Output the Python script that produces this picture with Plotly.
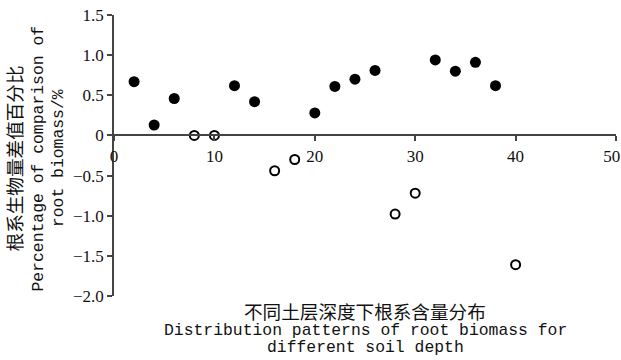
import plotly.graph_objects as go

# Filled points (positive difference)
filled_x = [2, 4, 6, 12, 14, 20, 22, 24, 26, 32, 34, 36, 38]
filled_y = [0.67, 0.13, 0.46, 0.62, 0.42, 0.28, 0.61, 0.70, 0.81, 0.94, 0.80, 0.91, 0.62]

# Open points
open_x = [8, 10, 16, 18, 28, 30, 40]
open_y = [0.0, 0.0, -0.44, -0.30, -0.98, -0.72, -1.61]

x_ticks = [0, 10, 20, 30, 40, 50]
x_ticktext = ["0", "10", "20", "30", "40", "50\u00a0\u00a0"]
y_ticks = [1.5, 1.0, 0.5, 0, -0.5, -1.0, -1.5, -2.0]
y_ticktext = ["1.5", "1.0", "0.5", "0", "−0.5", "−1.0", "−1.5", "−2.0"]

y_title_lines = ["根系生物量差值百分比", "Percentage of comparison of", "root biomass/%"]
x_title_lines = ["不同土层深度下根系含量分布", "Distribution patterns of root biomass for", "different soil depth"]

Y_MIN, Y_MAX = -2.0, 1.5

fig = go.Figure()
fig.add_trace(go.Scatter(x=filled_x, y=filled_y, mode="markers",
                         marker=dict(symbol="circle", size=11, color="black"),
                         cliponaxis=False, showlegend=False))
fig.add_trace(go.Scatter(x=open_x, y=open_y, mode="markers",
                         marker=dict(symbol="circle-open", size=9, color="black",
                                     line=dict(width=2, color="black")),
                         cliponaxis=False, showlegend=False))

axis_color = "#444444"
tick_font = dict(family="Liberation Serif", size=17, color="#111111")

fig.update_layout(
    width=621, height=360,
    margin=dict(l=114, r=5, t=15, b=64, autoexpand=False),
    paper_bgcolor="white", plot_bgcolor="white",
    xaxis=dict(range=[0, 50], tickvals=x_ticks, ticktext=x_ticktext, ticks="outside",
               ticklen=5, tickwidth=1.5, tickcolor=axis_color, showline=True,
               linecolor=axis_color, linewidth=1.5, showgrid=False, zeroline=False,
               tickfont=tick_font, ticklabeloverflow="allow", automargin=False,
               anchor="free", position=(0 - Y_MIN) / (Y_MAX - Y_MIN)),
    yaxis=dict(range=[Y_MIN, Y_MAX], tickvals=y_ticks, ticktext=y_ticktext,
               ticks="outside", ticklen=5, tickwidth=1.5, tickcolor=axis_color,
               showline=True, linecolor=axis_color, linewidth=1.5, showgrid=False,
               zeroline=False, tickfont=tick_font, ticklabeloverflow="allow",
               automargin=False),
)

# Y title (three rotated lines)
y_cols = [-0.201, -0.151, -0.110]
y_fonts = [dict(family="Noto Sans CJK SC", size=18.6, color="#111111"),
           dict(family="Liberation Mono", size=16.4, color="#111111"),
           dict(family="Liberation Mono", size=16.4, color="#111111")]
for txt, xp, f in zip(y_title_lines, y_cols, y_fonts):
    fig.add_annotation(text=txt, xref="paper", yref="paper", x=xp, y=0.49,
                       xanchor="center", yanchor="middle", textangle=-90,
                       showarrow=False, font=f, borderpad=0)

# X title (three lines)
x_rows = [-0.05, -0.121, -0.185]
for txt, yp, f in zip(x_title_lines, x_rows, y_fonts):
    fig.add_annotation(text=txt, xref="paper", yref="paper", x=0.5, y=yp,
                       xanchor="center", yanchor="middle", showarrow=False, font=f,
                       borderpad=0)

fig.write_html("out.html", config={"displayModeBar": False},
               post_script="document.body.style.margin='0';document.body.style.overflow='hidden';")
